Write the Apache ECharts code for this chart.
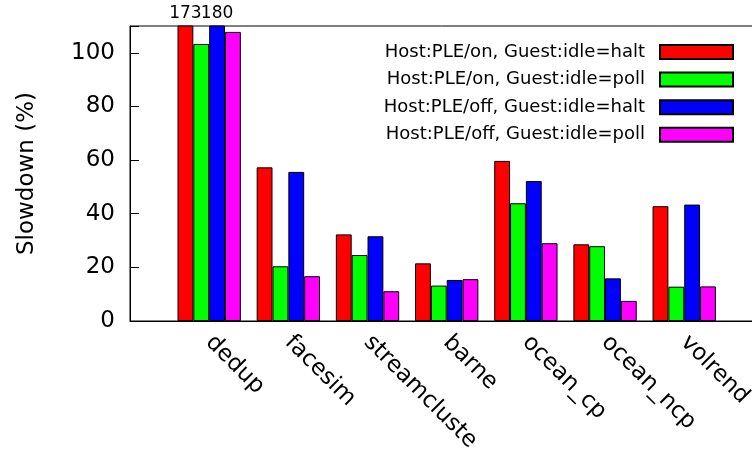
<!DOCTYPE html>
<html><head><meta charset="utf-8">
<script src="https://cdn.jsdelivr.net/npm/echarts@6/dist/echarts.min.js"></script>
<style>html,body{margin:0;padding:0;background:#fff}#c{width:752px;height:452px}</style>
</head><body><div id="c"></div>
<script>
const categories = ['dedup', 'facesim', 'streamcluste', 'barne', 'ocean_cp', 'ocean_ncp', 'volrend'];
const seriesNames = ['Host:PLE/on, Guest:idle=halt', 'Host:PLE/on, Guest:idle=poll', 'Host:PLE/off, Guest:idle=halt', 'Host:PLE/off, Guest:idle=poll'];
const pleOnHalt  = [173, 57.3, 32.3, 21.5, 59.7, 28.6, 42.8];
const pleOnPoll  = [103.3, 20.4, 24.6, 13.2, 43.9, 27.9, 12.8];
const pleOffHalt = [180, 55.6, 31.6, 15.3, 52.2, 15.9, 43.4];
const pleOffPoll = [107.8, 16.7, 11.1, 15.6, 29.0, 7.5, 12.9];
const yTicks = [0, 20, 40, 60, 80, 100];
const yMax = 110;
const colors = ['#ff0000', '#00ff00', '#0000ff', '#ff00ff'];
const values = [pleOnHalt, pleOnPoll, pleOffHalt, pleOffPoll];
const FF = 'DejaVu Sans';

const chart = echarts.init(document.getElementById('c'), null, {renderer: 'canvas'});
chart.setOption({
  animation: false,
  backgroundColor: '#fff',
  textStyle: {fontFamily: FF},
  grid: {left: 130, top: 26, width: 633.4, height: 295, show: true, borderColor: '#000', borderWidth: 1,
    containLabel: false, outerBoundsMode: 'none'},
  legend: {
    orient: 'vertical', right: 18, top: 43, align: 'right', padding: 0,
    itemWidth: 73, itemHeight: 14, itemGap: 9.6, icon: 'rect', selectedMode: false,
    textStyle: {fontFamily: FF, fontSize: 18, color: '#000', lineHeight: 14, padding: [0, 10, 0, 0]},
    data: seriesNames
  },
  xAxis: {
    type: 'category', boundaryGap: false,
    data: [''].concat(categories, ['']),
    axisLine: {show: true, lineStyle: {color: '#000', width: 1}},
    axisTick: {show: false},
    splitLine: {show: false},
    axisLabel: {rotate: -45, interval: 0, fontSize: 23, color: '#000', margin: 18, fontFamily: FF}
  },
  yAxis: {
    type: 'value', min: 0, max: yMax, interval: 20,
    axisLine: {show: true, lineStyle: {color: '#000', width: 1}},
    axisTick: {show: true, inside: true, length: 9, lineStyle: {color: '#000'}},
    splitLine: {show: false},
    axisLabel: {fontSize: 23, color: '#000', margin: 15, fontFamily: FF,
      formatter: v => yTicks.includes(v) ? String(v) : ''},
    name: 'Slowdown (%)', nameLocation: 'middle', nameGap: 91,
    nameTextStyle: {fontSize: 23, color: '#000', fontFamily: FF}
  },
  series: values.map((vals, i) => ({
    name: seriesNames[i], type: 'bar', clip: true,
    barGap: '0%', barCategoryGap: '20%',
    data: ['-'].concat(vals, ['-']),
    itemStyle: {color: colors[i], borderColor: '#000', borderWidth: 1},
    label: {show: true, position: 'top', distance: 3, fontSize: 17, color: '#000', fontFamily: FF,
      formatter: p => (typeof p.value === 'number' && p.value > yMax) ? String(p.value) : ''}
  }))
});
</script></body></html>
